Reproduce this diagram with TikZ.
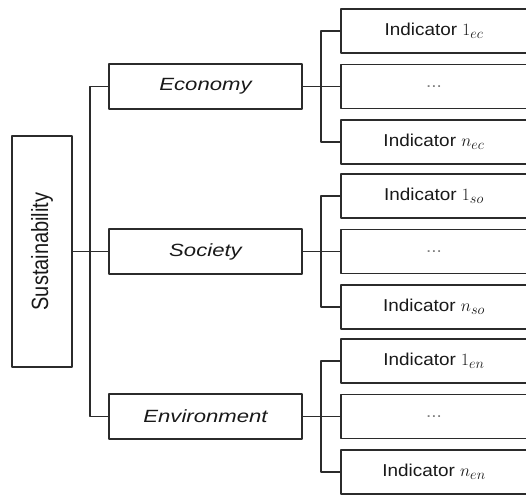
\documentclass[tikz,border=0pt]{standalone}
\usepackage{tikz}
\usepackage{fontspec}
\setmainfont{Liberation Sans}
\newfontfamily\catfont[FakeStretch=1.25]{Liberation Sans}
\newfontfamily\indfont[FakeStretch=1.1]{Liberation Sans}
\newfontfamily\sustfont[FakeStretch=0.85]{Liberation Sans}
\definecolor{linegray}{HTML}{2B2B2B}
\newcommand{\dotsmark}{{\color{black!50}...}}
\newcommand{\indsub}[2]{{\fontsize{19}{20}\selectfont$#1_{#2}$}}
\tikzset{
  box/.style={draw=linegray,line width=1.2pt,text=black!90,inner sep=0pt},
  sustbox/.style={box,minimum width=60pt,minimum height=231pt,font=\sustfont\fontsize{23.5}{26}\selectfont},
  catbox/.style={box,minimum width=193pt,minimum height=45pt,font=\catfont\itshape\fontsize{17.7}{20}\selectfont},
  indbox/.style={box,minimum width=186pt,minimum height=44pt,font=\indfont\fontsize{17.2}{20}\selectfont},
  link/.style={draw=linegray,line width=1.2pt}
}
\begin{document}
\begin{tikzpicture}[x=1pt,y=-1pt,line join=round]
	\useasboundingbox (0,0) rectangle (526,494);
	\clip (0,0) rectangle (526,494);
	\node[sustbox] (sust) at (42,251.5) {\rotatebox{90}{Sustainability}};
	\foreach \cat/\lbl/\ind/\y in {eco/Economy/ec/86.5,soc/Society/so/251.5,env/Environment/en/416.5}{
		\node[catbox] (\cat) at (205.5,\y) {\lbl};
		\node[indbox] (\ind1) at (434,\y-55.5) {Indicator \indsub{1}{\ind}};
		\node[indbox] (\ind2) at (434,\y) {\dotsmark};
		\node[indbox] (\ind3) at (434,\y+55.5) {Indicator \indsub{n}{\ind}};
		\coordinate (\ind br) at (321,\y);
		\draw[link] (\cat.east) -- (\ind2.west);
		\draw[link] (\ind1.west) -| (\ind br) |- (\ind3.west);
	}
	% trunk
	\coordinate (trunk) at (90,251.5);
	\draw[link] (eco.west) -| (trunk) |- (env.west);
	\draw[link] (sust.east) -- (soc.west);
\end{tikzpicture}
\end{document}
